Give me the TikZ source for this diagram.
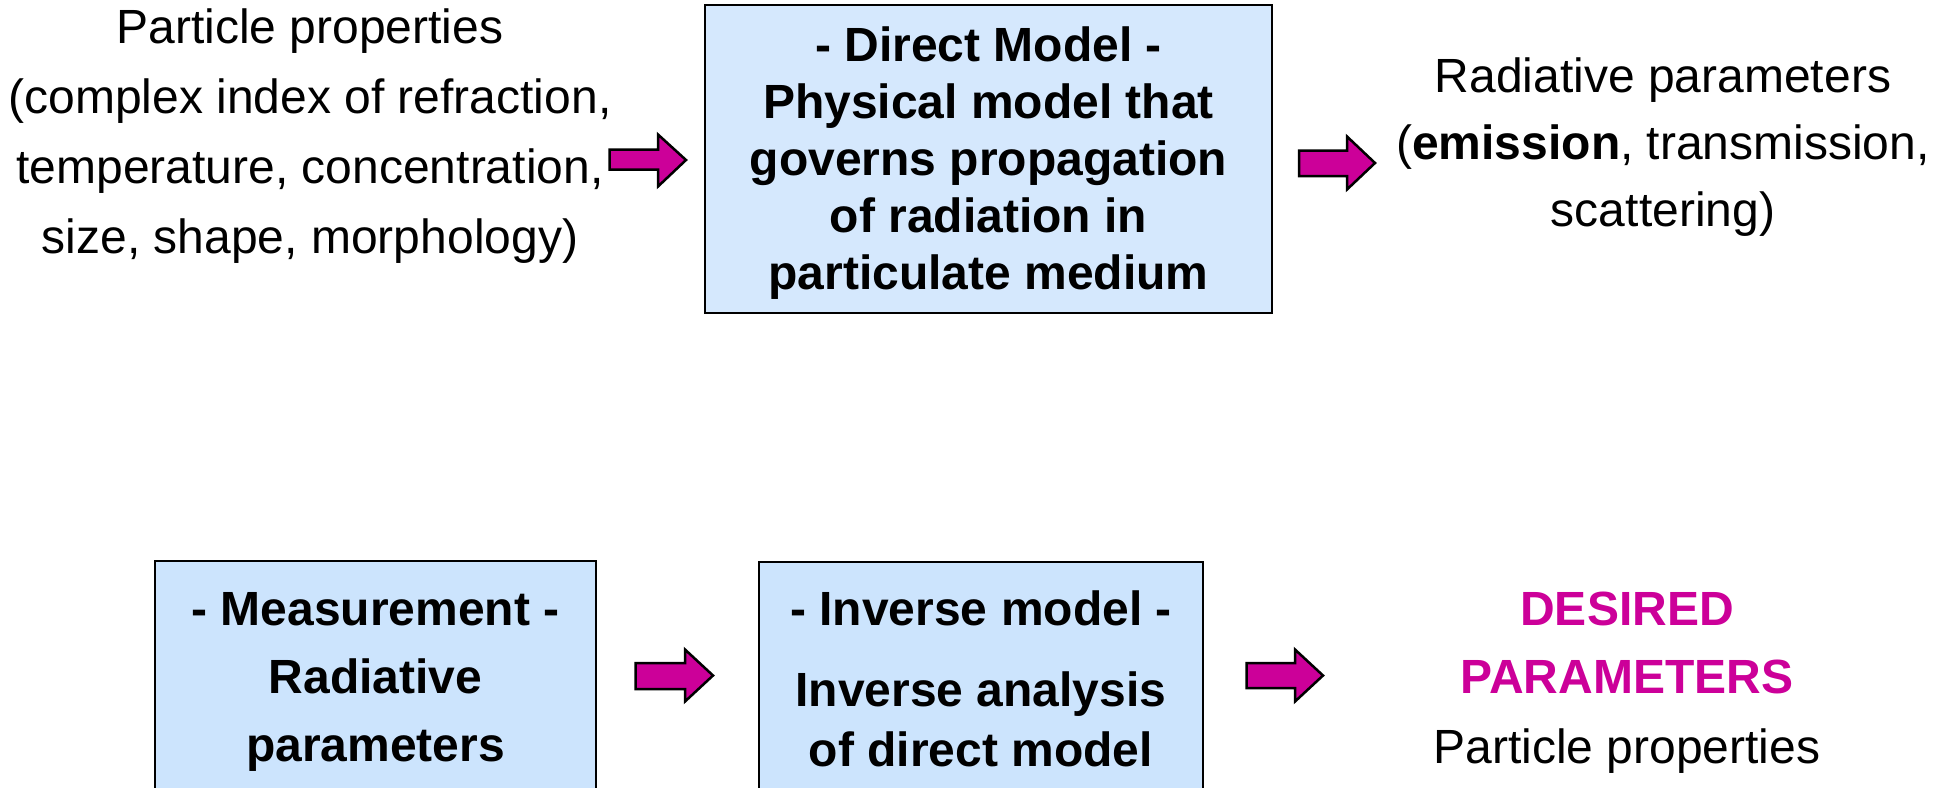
\documentclass[tikz,border=0pt]{standalone}
\usepackage{fontspec}
\setmainfont{Liberation Sans}
\definecolor{boxblue}{RGB}{213,232,253}
\definecolor{boxbluelow}{RGB}{204,228,253}
\definecolor{arrowmag}{RGB}{204,0,153}
\begin{document}
\begin{tikzpicture}[x=1pt,y=-1pt,
  box/.style={draw=black, line width=2.5pt, fill=boxblue},
  plain/.style={align=center, font=\fontsize{48}{70}\selectfont, inner sep=0pt},
  boldtxt/.style={align=center, font=\fontsize{48}{57}\selectfont\bfseries, inner sep=0pt},
  boldwide/.style={align=center, font=\fontsize{48}{68}\selectfont\bfseries, inner sep=0pt},
  blockarrow/.style={draw=black, line width=2.5pt, fill=arrowmag, line join=miter}]
\clip (0,0) rectangle (1948,787);
\fill[white] (0,0) rectangle (1948,787);

% top row
\node[plain] (inprops) at (310,136) {Particle properties\\(complex index of refraction,\\temperature, concentration,\\size, shape, morphology)};
\draw[box] (705,5) rectangle (1272,313);
\node[boldtxt] (direct) at (988.5,163) {- Direct Model -\\Physical model that\\governs propagation\\of radiation in\\particulate medium};
\node[plain, font=\fontsize{48}{67}\selectfont] (radpar) at (1663,147) {Radiative parameters\\(\textbf{emission}, transmission,\\scattering)};

\draw[blockarrow] (609.5,149.5) -- (658,149.5) -- (658,134.5) -- (686,160) -- (658,186.5) -- (658,169.5) -- (609.5,169.5) -- cycle;
\draw[blockarrow] (1299,150.5) -- (1347,150.5) -- (1347,136.5) -- (1375,163) -- (1347,189.5) -- (1347,176) -- (1299,176) -- cycle;

% bottom row
\draw[box, fill=boxbluelow] (155,561) rectangle (596,820);
\node[boldwide] (meas) at (375.5,682) {- Measurement -\\Radiative\\parameters};
\draw[box, fill=boxbluelow] (759,562) rectangle (1203,820);
\node[align=center, inner sep=0pt, font=\fontsize{48}{60}\selectfont\bfseries] (inv) at (981,679) {- Inverse model -\\[21pt]Inverse analysis\\of direct model};
\node[plain, text=arrowmag, font=\fontsize{48}{68}\selectfont\bfseries] (desired) at (1627,643) {DESIRED\\PARAMETERS};
\node[plain] (outprops) at (1627,751) {Particle properties};

\draw[blockarrow] (635.5,663) -- (685,663) -- (685,649.5) -- (713,675.5) -- (685,701.5) -- (685,689) -- (635.5,689) -- cycle;
\draw[blockarrow] (1246.5,663) -- (1295,663) -- (1295,649.5) -- (1323,675.5) -- (1295,701.5) -- (1295,688) -- (1246.5,688) -- cycle;
\end{tikzpicture}
\end{document}
